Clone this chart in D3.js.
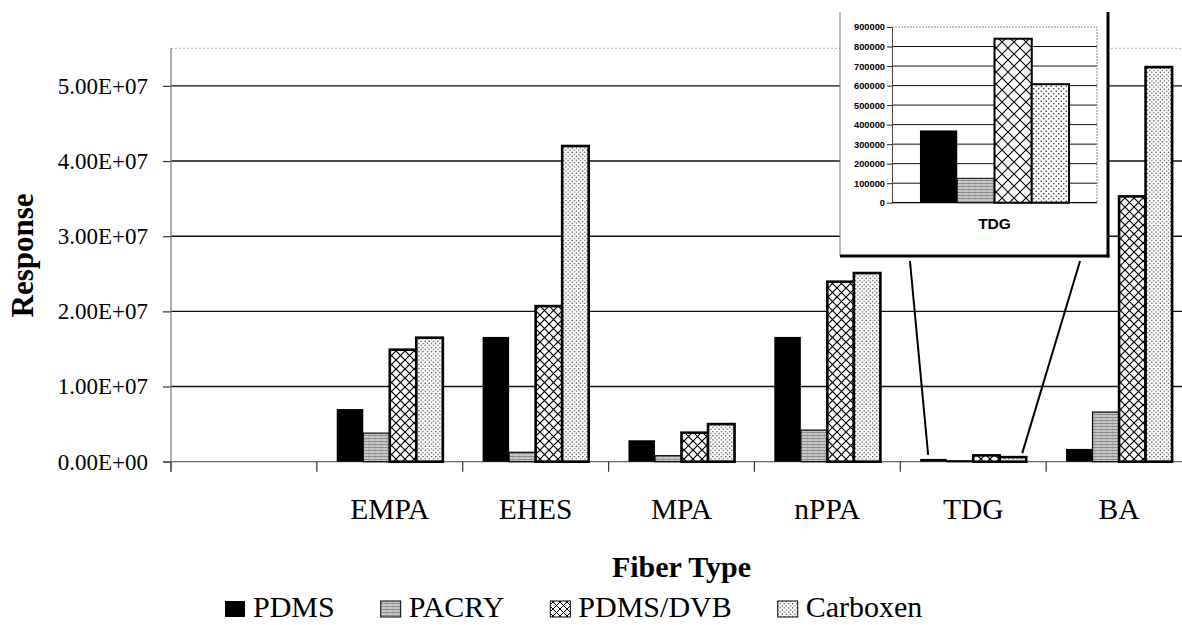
<!DOCTYPE html>
<html>
<head>
<meta charset="utf-8">
<script src="https://cdn.jsdelivr.net/npm/d3@7"></script>
<style>
  html, body { margin: 0; padding: 0; background: #fff; }
  svg { display: block; }
</style>
</head>
<body>
<svg id="chart" width="1182" height="625"></svg>
<script>
// ---- data ----
const categories = ["", "EMPA", "EHES", "MPA", "nPPA", "TDG", "BA"];
const seriesNames = ["PDMS", "PACRY", "PDMS/DVB", "Carboxen"];
const pdms     = [null, 7.0e6, 1.66e7, 2.85e6, 1.66e7, 3.70e5, 1.70e6];
const pacry    = [null, 3.8e6, 1.25e6, 8.0e5,  4.2e6,  1.25e5, 6.6e6];
const pdmsDvb  = [null, 1.49e7, 2.07e7, 3.86e6, 2.395e7, 8.40e5, 3.53e7];
const carboxen = [null, 1.65e7, 4.20e7, 5.0e6, 2.51e7, 6.07e5, 5.25e7];
const yTicks = [0, 1e7, 2e7, 3e7, 4e7, 5e7];
const insetTicks = [0, 100000, 200000, 300000, 400000, 500000, 600000, 700000, 800000, 900000];
const insetCategory = "TDG";

const seriesValues = [pdms, pacry, pdmsDvb, carboxen];

const serif = "'Liberation Serif', 'Times New Roman', serif";
const sans = "'Liberation Sans', Arial, sans-serif";

const svg = d3.select("#chart");
const defs = svg.append("defs");

// ---- fill patterns ----
function crossHatch(id, s, w) {
  const p = defs.append("pattern").attr("id", id).attr("patternUnits", "userSpaceOnUse")
    .attr("width", s).attr("height", s);
  p.append("rect").attr("width", s).attr("height", s).attr("fill", "#fff");
  p.append("path").attr("d", `M0,0L${s},${s}M${s},0L0,${s}`)
    .attr("stroke", "#000").attr("stroke-width", w);
}
function dots(id, s, r) {
  const p = defs.append("pattern").attr("id", id).attr("patternUnits", "userSpaceOnUse")
    .attr("width", s).attr("height", s);
  p.append("rect").attr("width", s).attr("height", s).attr("fill", "#fff");
  p.append("circle").attr("cx", s * 0.25).attr("cy", s * 0.25).attr("r", r).attr("fill", "#222");
  p.append("circle").attr("cx", s * 0.75).attr("cy", s * 0.75).attr("r", r).attr("fill", "#222");
}
function streaks(id) {
  const p = defs.append("pattern").attr("id", id).attr("patternUnits", "userSpaceOnUse")
    .attr("width", 6).attr("height", 3);
  p.append("rect").attr("width", 6).attr("height", 3).attr("fill", "#c9c9c9");
  p.append("rect").attr("y", 0).attr("width", 6).attr("height", 1).attr("fill", "#8c8c8c");
  p.append("rect").attr("x", 2).attr("y", 1.5).attr("width", 2).attr("height", 0.8).attr("fill", "#a8a8a8");
}
crossHatch("hatchMain", 9, 1.2);
crossHatch("hatchInset", 12, 1.1);
crossHatch("hatchKey", 7, 1);
dots("dotsMain", 4.2, 0.7);
dots("dotsInset", 5, 0.75);
streaks("streak");

const fills = {
  main:  ["#000", "url(#streak)", "url(#hatchMain)", "url(#dotsMain)"],
  inset: ["#000", "url(#streak)", "url(#hatchInset)", "url(#dotsInset)"],
  key:   ["#000", "url(#streak)", "url(#hatchKey)", "url(#dotsMain)"]
};
const strokes = ["none", "#000", "#000", "#000"];

// ---- main chart scales ----
const plotLeft = 171, plotRight = 1192, plotTop = 48.3, plotBottom = 461.7;
const x = d3.scaleBand().domain(categories).range([plotLeft, plotRight]);
const xs = d3.scaleBand().domain(seriesNames).range([0, x.bandwidth()]).paddingOuter(0.75);
const y = d3.scaleLinear().domain([0, 5.5e7]).range([plotBottom, plotTop]);

function sci(v) {
  if (v === 0) return "0.00E+00";
  const e = Math.floor(Math.log10(v));
  const m = v / Math.pow(10, e);
  return m.toFixed(2) + "E" + (e < 0 ? "-" : "+") + String(Math.abs(e)).padStart(2, "0");
}

// plot frame top (dotted)
svg.append("line").attr("x1", plotLeft).attr("x2", plotRight)
  .attr("y1", plotTop).attr("y2", plotTop)
  .attr("stroke", "#aaa").attr("stroke-width", 1).attr("stroke-dasharray", "2,2");

// gridlines
svg.append("g").selectAll("line").data(yTicks.filter(d => d > 0)).join("line")
  .attr("x1", plotLeft).attr("x2", plotRight)
  .attr("y1", d => y(d)).attr("y2", d => y(d))
  .attr("stroke", "#111").attr("stroke-width", 1.4);

// y axis
const yAxis = svg.append("g").attr("transform", `translate(${plotLeft},0)`)
  .call(d3.axisLeft(y).tickValues(yTicks).tickFormat(sci).tickSize(8).tickSizeOuter(0).tickPadding(15));
yAxis.select(".domain").remove();
yAxis.selectAll(".tick line").attr("stroke", "#333").attr("stroke-width", 1.2);
yAxis.selectAll(".tick text").attr("font-family", serif).attr("font-size", 23).attr("fill", "#000");
svg.append("line").attr("x1", plotLeft).attr("x2", plotLeft)
  .attr("y1", plotTop).attr("y2", plotBottom + 10)
  .attr("stroke", "#777").attr("stroke-width", 1.2);

// x axis line + boundary ticks
svg.append("line").attr("x1", plotLeft - 8).attr("x2", plotRight)
  .attr("y1", plotBottom).attr("y2", plotBottom)
  .attr("stroke", "#666").attr("stroke-width", 1.2);
svg.append("g").selectAll("line").data(d3.range(categories.length + 1)).join("line")
  .attr("x1", i => plotLeft + i * x.step()).attr("x2", i => plotLeft + i * x.step())
  .attr("y1", plotBottom).attr("y2", plotBottom + 10)
  .attr("stroke", "#333").attr("stroke-width", 1.2);

// category labels
svg.append("g").selectAll("text").data(categories.filter(c => c !== "")).join("text")
  .attr("x", c => x(c) + x.bandwidth() / 2).attr("y", 519)
  .attr("text-anchor", "middle").attr("font-family", serif).attr("font-size", 29.5)
  .text(c => c);

// bars
const barData = [];
categories.forEach((c, ci) => {
  seriesNames.forEach((s, si) => {
    const v = seriesValues[si][ci];
    if (v !== null && v !== undefined) barData.push({ c, s, si, v });
  });
});
svg.append("g").selectAll("rect").data(barData).join("rect")
  .attr("x", d => x(d.c) + xs(d.s))
  .attr("width", xs.bandwidth())
  .attr("y", d => y(d.v))
  .attr("height", d => plotBottom - y(d.v))
  .attr("fill", d => fills.main[d.si])
  .attr("stroke", d => strokes[d.si])
  .attr("stroke-width", d => d.si === 1 ? 1.2 : 2.6);

// axis titles
svg.append("text").attr("transform", "translate(33,255.5) rotate(-90)")
  .attr("text-anchor", "middle").attr("font-family", serif).attr("font-weight", "bold")
  .attr("font-size", 31).text("Response");
svg.append("text").attr("x", (plotLeft + plotRight) / 2).attr("y", 577)
  .attr("text-anchor", "middle").attr("font-family", serif).attr("font-weight", "bold")
  .attr("font-size", 30).text("Fiber Type");

// legend
const legend = svg.append("g");
let lx = 225;
seriesNames.forEach((s, si) => {
  legend.append("rect").attr("x", lx).attr("y", 601).attr("width", 20).attr("height", 16)
    .attr("fill", fills.key[si]).attr("stroke", "#000").attr("stroke-width", si === 0 ? 0 : 1);
  const t = legend.append("text").attr("x", lx + 28).attr("y", 617)
    .attr("font-family", serif).attr("font-size", 30).text(s);
  lx += 28 + t.node().getComputedTextLength() + 46;
});

// ---- inset: magnified view of one category ----
const ci = categories.indexOf(insetCategory);
const insetBox = { left: 840, right: 1108, top: 12, bottom: 256 };
const inset = svg.append("g");
inset.append("rect").attr("x", insetBox.left).attr("y", insetBox.top)
  .attr("width", insetBox.right - insetBox.left).attr("height", insetBox.bottom - insetBox.top)
  .attr("fill", "#fff");
inset.append("line").attr("x1", insetBox.left).attr("x2", insetBox.left)
  .attr("y1", insetBox.top).attr("y2", insetBox.bottom)
  .attr("stroke", "#777").attr("stroke-width", 1);
inset.append("line").attr("x1", insetBox.right).attr("x2", insetBox.right)
  .attr("y1", insetBox.top).attr("y2", insetBox.bottom + 1.5)
  .attr("stroke", "#000").attr("stroke-width", 3);
inset.append("line").attr("x1", insetBox.left).attr("x2", insetBox.right + 1.5)
  .attr("y1", insetBox.bottom).attr("y2", insetBox.bottom)
  .attr("stroke", "#000").attr("stroke-width", 3);

const ix = d3.scaleBand().domain([insetCategory]).range([892, 1097]);
const ixs = d3.scaleBand().domain(seriesNames).range([0, ix.bandwidth()]).paddingOuter(0.75);
const iy = d3.scaleLinear().domain([0, 900000]).range([202.7, 27]);

inset.append("g").selectAll("line").data(insetTicks.filter(d => d > 0 && d < 900000)).join("line")
  .attr("x1", 892).attr("x2", 1097).attr("y1", d => iy(d)).attr("y2", d => iy(d))
  .attr("stroke", "#111").attr("stroke-width", 1);
inset.append("path")
  .attr("d", `M892,${iy(900000)}H1097V${iy(0)}`)
  .attr("fill", "none").attr("stroke", "#888").attr("stroke-width", 1).attr("stroke-dasharray", "2,1");

const iAxis = inset.append("g").attr("transform", "translate(892,0)")
  .call(d3.axisLeft(iy).tickValues(insetTicks).tickFormat(d3.format("d")).tickSize(5).tickSizeOuter(0).tickPadding(2));
iAxis.select(".domain").attr("stroke", "#444");
iAxis.selectAll(".tick line").attr("stroke", "#222");
iAxis.selectAll(".tick text").attr("font-family", sans).attr("font-weight", "bold")
  .attr("font-size", 9.3).attr("fill", "#000");
inset.append("line").attr("x1", 892).attr("x2", 1097).attr("y1", iy(0)).attr("y2", iy(0))
  .attr("stroke", "#000").attr("stroke-width", 1.2);

inset.append("g").selectAll("rect").data(seriesNames.map((s, si) => ({ s, si, v: seriesValues[si][ci] })))
  .join("rect")
  .attr("x", d => ix(insetCategory) + ixs(d.s))
  .attr("width", ixs.bandwidth())
  .attr("y", d => iy(d.v))
  .attr("height", d => iy(0) - iy(d.v))
  .attr("fill", d => fills.inset[d.si])
  .attr("stroke", d => strokes[d.si])
  .attr("stroke-width", d => d.si === 1 ? 1 : 2);

inset.append("text").attr("x", ix(insetCategory) + ix.bandwidth() / 2).attr("y", 229)
  .attr("text-anchor", "middle").attr("font-family", sans).attr("font-weight", "bold")
  .attr("font-size", 15.5).text(insetCategory);

// connector lines from the inset down to the magnified category
const firstBarX = x(insetCategory) + xs(seriesNames[0]);
const lastBarX = x(insetCategory) + xs(seriesNames[3]);
svg.append("g").selectAll("line").data([
  [ix(insetCategory) + ixs(seriesNames[0]) - 10, insetBox.bottom + 5, firstBarX + xs.bandwidth() * 0.3, y(pdms[ci]) - 4],
  [ix(insetCategory) + ixs(seriesNames[3]) + ixs.bandwidth() + 11, insetBox.bottom + 5, lastBarX + xs.bandwidth() * 0.85, y(carboxen[ci]) - 4]
]).join("line")
  .attr("x1", d => d[0]).attr("y1", d => d[1]).attr("x2", d => d[2]).attr("y2", d => d[3])
  .attr("stroke", "#000").attr("stroke-width", 2);
</script>
</body>
</html>
